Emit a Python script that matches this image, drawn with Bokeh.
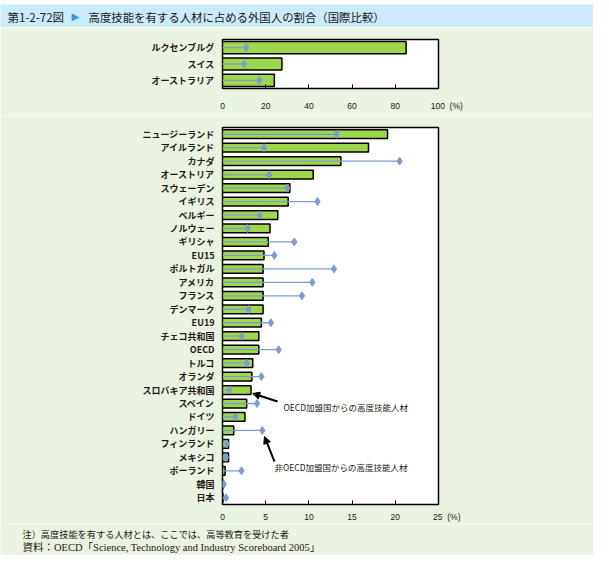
from bokeh.plotting import figure
from bokeh.models import Label, Arrow, NormalHead, FactorRange, Range1d, FixedTicker
from bokeh.layouts import column
from bokeh.embed import file_html
from bokeh.resources import INLINE

# ---------------- data ----------------
title_no = "第1-2-72図"
title_text = "高度技能を有する人材に占める外国人の割合（国際比較）"

top_countries = ["ルクセンブルグ", "スイス", "オーストラリア"]
top_oecd = [85.0, 27.5, 24.0]        # bars: highly skilled from OECD countries (%)
top_non_oecd = [11.0, 10.0, 17.0]    # diamonds: highly skilled from non-OECD countries (%)
top_ticks = [0, 20, 40, 60, 80, 100]

countries = ["ニュージーランド", "アイルランド", "カナダ", "オーストリア", "スウェーデン",
             "イギリス", "ベルギー", "ノルウェー", "ギリシャ", "EU15", "ポルトガル",
             "アメリカ", "フランス", "デンマーク", "EU19", "チェコ共和国", "OECD", "トルコ",
             "オランダ", "スロバキア共和国", "スペイン", "ドイツ", "ハンガリー", "フィンランド",
             "メキシコ", "ポーランド", "韓国", "日本"]
oecd = [19.1, 16.9, 13.7, 10.5, 7.8, 7.6, 6.4, 5.5, 5.3, 4.8, 4.7, 4.7, 4.7, 4.7,
        4.5, 4.2, 4.2, 3.5, 3.4, 3.3, 2.8, 2.6, 1.3, 0.7, 0.7, 0.3, 0.05, 0.05]
non_oecd = [13.2, 4.8, 20.5, 5.4, 7.5, 11.0, 4.3, 2.9, 8.3, 6.0, 12.9, 10.4, 9.2, 3.0,
            5.6, 2.2, 6.5, 2.8, 4.5, 0.8, 4.0, 1.5, 4.6, 0.5, 0.4, 2.2, 0.15, 0.4]
bottom_ticks = [0, 5, 10, 15, 20, 25]
unit = "(%)"

label_bar = "OECD加盟国からの高度技能人材"
label_dot = "非OECD加盟国からの高度技能人材"
note1 = "注）高度技能を有する人材とは、ここでは、高等教育を受けた者"
note2 = "資料：OECD「Science, Technology and Industry Scoreboard 2005」"

# ---------------- style ----------------
W = 593
BAND = "#c9ebfb"
BG = "#eaf3e1"
GREEN = "#9ed64c"
BLUE = "#7f9ccf"
TXT = "#231815"
JP = "Noto Sans CJK JP"
TICKF = "Liberation Sans"
SERIF = "Liberation Serif, Noto Sans CJK JP"
NB = "\u00a0"


def style_axes(p, ticks, standoff):
    p.grid.visible = False
    p.xaxis.ticker = FixedTicker(ticks=ticks)
    # last tick carries the unit; leading no-break spaces keep the number centred on its tick
    p.xaxis.major_label_overrides = {ticks[-1]: NB * 7 + str(ticks[-1]) + NB * 2 + unit}
    p.xaxis.axis_line_color = None
    p.xaxis.major_tick_in = 4
    p.xaxis.major_tick_out = 0
    p.xaxis.minor_tick_line_color = None
    p.xaxis.major_tick_line_color = "black"
    p.xaxis.major_label_standoff = standoff
    p.xaxis.major_label_text_font = TICKF
    p.xaxis.major_label_text_font_size = "8.5px"
    p.xaxis.major_label_text_color = TXT
    p.yaxis.axis_line_color = None
    p.yaxis.major_tick_line_color = None
    p.yaxis.major_tick_in = 0
    p.yaxis.major_tick_out = 0
    p.yaxis.major_label_standoff = 8
    p.yaxis.major_label_text_font = JP
    p.yaxis.major_label_text_font_style = "bold"
    p.yaxis.major_label_text_font_size = "9px"
    p.yaxis.major_label_text_color = TXT


# ---------------- title band ----------------
pt = figure(width=W, height=27, x_range=(0, W), y_range=(0, 23),
            x_axis_location=None, y_axis_location=None, toolbar_location=None,
            output_backend="svg", min_border=0, min_border_top=4, frame_align=False,
            background_fill_color=BAND, border_fill_color="white", outline_line_color=None)
pt.grid.visible = False
pt.add_layout(Label(x=7, y=11, text=title_no, text_font=JP, text_font_size="11.5px",
                    text_color=TXT, text_baseline="middle"))
pt.add_layout(Label(x=71, y=11, text="▶", text_font="DejaVu Sans", text_font_size="10px",
                    text_color="#2f9be0", text_baseline="middle"))
pt.add_layout(Label(x=88, y=11, text=title_text, text_font=JP, text_font_size="11.4px",
                    text_color=TXT, text_baseline="middle"))

# ---------------- top chart ----------------
p1 = figure(width=W, height=88, x_range=Range1d(0, 100),
            y_range=FactorRange(factors=list(reversed(top_countries))),
            toolbar_location=None, output_backend="svg",
            min_border_left=222, min_border_right=155, min_border_top=12, min_border_bottom=27,
            background_fill_color="white", border_fill_color=BG,
            outline_line_color="black", outline_line_width=1.5)
p1.hbar(y=top_countries, left=0, right=top_oecd, height=0.74,
        fill_color=GREEN, line_color="black", line_width=1.5)
p1.segment(x0=[0] * len(top_countries), y0=top_countries, x1=top_non_oecd, y1=top_countries,
           line_color=BLUE, line_width=1.3)
p1.scatter(x=top_non_oecd, y=top_countries, marker="diamond", size=8,
           fill_color=BLUE, line_color=BLUE)
style_axes(p1, top_ticks, 12)

# ---------------- bottom chart ----------------
p2 = figure(width=W, height=409, x_range=Range1d(0, 25),
            y_range=FactorRange(factors=list(reversed(countries))),
            toolbar_location=None, output_backend="svg",
            min_border_left=222, min_border_right=155, min_border_top=12, min_border_bottom=20,
            background_fill_color="white", border_fill_color=BG,
            outline_line_color="black", outline_line_width=1.5)
p2.hbar(y=countries, left=0, right=oecd, height=0.65,
        fill_color=GREEN, line_color="black", line_width=1.5)
p2.segment(x0=[0] * len(countries), y0=countries, x1=non_oecd, y1=countries,
           line_color=BLUE, line_width=1.3)
p2.scatter(x=non_oecd, y=countries, marker="diamond", size=8,
           fill_color=BLUE, line_color=BLUE)
style_axes(p2, bottom_ticks, 7)

# annotations (in data units of the bottom chart)
p2.add_layout(Arrow(end=NormalHead(size=7, fill_color="black", line_color="black"),
                    x_start=6.37, y_start=7.65, x_end=3.5, y_end=8.25,
                    line_color="black", line_width=2))
p2.add_layout(Arrow(end=NormalHead(size=7, fill_color="black", line_color="black"),
                    x_start=6.02, y_start=3.19, x_end=4.86, y_end=5.05,
                    line_color="black", line_width=2))
p2.add_layout(Label(x=7.06, y=7.21, text=label_bar, text_font=JP, text_font_size="8.5px",
                    text_color=TXT, text_baseline="middle"))
p2.add_layout(Label(x=6.02, y=2.75, text=label_dot, text_font=JP, text_font_size="8.5px",
                    text_color=TXT, text_baseline="middle"))

# ---------------- footnotes ----------------
pf = figure(width=W, height=31, x_range=(0, W), y_range=(0, 31),
            x_axis_location=None, y_axis_location=None, toolbar_location=None,
            output_backend="svg", min_border=0, frame_align=False,
            background_fill_color=BG, border_fill_color=BG, outline_line_color=None)
pf.grid.visible = False
pf.add_layout(Label(x=22, y=21, text=note1, text_font=SERIF, text_font_size="9.2px",
                    text_color=TXT, text_baseline="middle"))
pf.add_layout(Label(x=22, y=8.3, text=note2, text_font=SERIF, text_font_size="10.5px",
                    text_color=TXT, text_baseline="middle"))

layout = column(pt, p1, p2, pf, spacing=0)
open("out.html", "w").write(file_html(layout, INLINE))
